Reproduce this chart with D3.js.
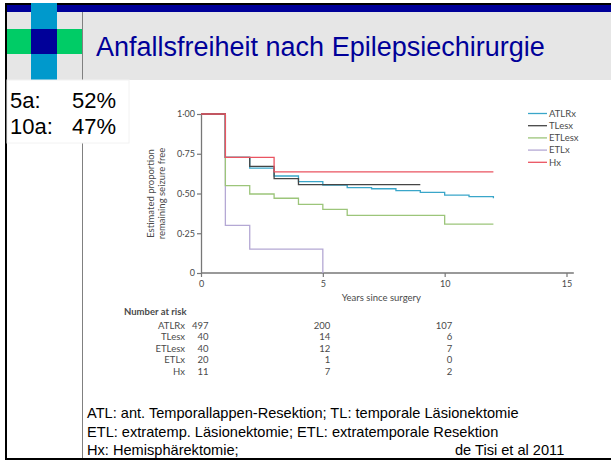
<!DOCTYPE html>
<html>
<head>
<meta charset="utf-8">
<script src="https://cdn.jsdelivr.net/npm/d3@7"></script>
<style>
  body { margin: 0; background: #fff; }
  svg { display: block; }
  .fig text { font-family: Lato, "Open Sans", sans-serif; fill: #4a4a4a; }
</style>
</head>
<body>
<div id="slide"></div>
<script>
// Survival curves (years since surgery, estimated proportion seizure free)
var seriesNames = ["ATLRx", "TLesx", "ETLesx", "ETLx", "Hx"];
var seriesColors = ["#3aa6c9", "#454545", "#9cc57a", "#b4a8d4", "#ea5461"];

var atlrx  = [[0,1],[1,0.727],[2,0.66],[3,0.61],[4,0.575],[5,0.553],[6,0.537],[7,0.53],[8,0.518],[9,0.507],[10,0.49],[11,0.48],[12,0.47]];
var tlesx  = [[0,1],[1,0.727],[2,0.67],[3,0.593],[4,0.556],[9,0.556]];
var etlesx = [[0,1],[1,0.55],[2,0.497],[3,0.47],[4,0.432],[5,0.40],[6,0.363],[10,0.308],[12,0.308]];
var etlx   = [[0,1],[1,0.30],[2,0.15],[5,0]];
var hx     = [[0,1],[1,0.727],[3,0.636],[12,0.636]];

var yTicks = [0, 0.25, 0.5, 0.75, 1];
var xTicks = [0, 5, 10, 15];

// Number at risk table
var riskYears = [0, 5, 10];
var riskATLRx  = [497, 200, 107];
var riskTLesx  = [40, 14, 6];
var riskETLesx = [40, 12, 7];
var riskETLx   = [20, 1, 0];
var riskHx     = [11, 7, 2];

var footnotes = [
  "ATL: ant. Temporallappen-Resektion; TL: temporale Läsionektomie",
  "ETL: extratemp. Läsionektomie; ETL: extratemporale Resektion",
  "Hx: Hemisphärektomie;"
];

var svgWidth = 611;
var svgHeight = 461;

var svg = d3.select("#slide")
  .append("svg")
  .attr("width", svgWidth)
  .attr("height", svgHeight);

svg.append("rect").attr("width", svgWidth).attr("height", svgHeight).attr("fill", "#fff");

// ---- slide frame ----
svg.append("rect").attr("x", 7).attr("y", 12).attr("width", 604).attr("height", 68).attr("fill", "#e6e6e6");
svg.append("rect").attr("x", 5).attr("y", 3).attr("width", 606).attr("height", 2).attr("fill", "#000");
svg.append("rect").attr("x", 5).attr("y", 5).attr("width", 606).attr("height", 7).attr("fill", "#000099");
svg.append("rect").attr("x", 5).attr("y", 3).attr("width", 2).attr("height", 457).attr("fill", "#000");
svg.append("rect").attr("x", 5).attr("y", 458).attr("width", 606).attr("height", 2).attr("fill", "#000");
svg.append("line").attr("x1", 82.5).attr("x2", 82.5).attr("y1", 12).attr("y2", 458)
  .attr("stroke", "#808080").attr("stroke-width", 1);
svg.append("rect").attr("x", 31).attr("y", 3).attr("width", 26).attr("height", 77).attr("fill", "#0099cc");
svg.append("rect").attr("x", 7).attr("y", 29).attr("width", 75).attr("height", 25).attr("fill", "#00cc66");
svg.append("rect").attr("x", 31).attr("y", 29).attr("width", 26).attr("height", 25).attr("fill", "#000099");

svg.append("text")
  .attr("x", 96).attr("y", 56)
  .attr("font-family", "Liberation Sans, Arial, sans-serif")
  .attr("font-size", 27)
  .attr("fill", "#000099")
  .text("Anfallsfreiheit nach Epilepsiechirurgie");

// white box with the rates
svg.append("rect").attr("x", 7).attr("y", 80).attr("width", 122).attr("height", 63)
  .attr("fill", "#fff").attr("stroke", "#f2f2f2");
var rates = [["5a:", "52%"], ["10a:", "47%"]];
rates.forEach(function(r, i) {
  svg.append("text").attr("x", 10).attr("y", 108 + i * 26)
    .attr("font-family", "Liberation Sans, Arial, sans-serif").attr("font-size", 22).text(r[0]);
  svg.append("text").attr("x", 72).attr("y", 108 + i * 26)
    .attr("font-family", "Liberation Sans, Arial, sans-serif").attr("font-size", 22).text(r[1]);
});

// ---- figure ----
var fig = svg.append("g").attr("class", "fig");

var xScale = d3.scaleLinear().domain([0, 15]).range([201, 566.5]);
var yScale = d3.scaleLinear().domain([0, 1]).range([273, 114]);

var fmt = function(d) { return d === 0 ? "0" : d3.format(".2f")(d).replace(".", "·"); };

var leftAxis = d3.axisLeft(yScale).tickValues(yTicks).tickFormat(fmt).tickSize(4).tickSizeOuter(0);
var bottomAxis = d3.axisBottom(xScale).tickValues(xTicks).tickSize(4).tickSizeOuter(0);

var yAxis = fig.append("g").attr("transform", "translate(201,0)").call(leftAxis);
var xAxis = fig.append("g").attr("transform", "translate(0,273)").call(bottomAxis);
xAxis.select(".domain").remove();
fig.append("line")
  .attr("x1", xScale(0)).attr("x2", xScale(15.3))
  .attr("y1", yScale(0)).attr("y2", yScale(0))
  .attr("stroke", "#777").attr("stroke-width", 1.3);

[yAxis, xAxis].forEach(function(a) {
  a.selectAll(".domain").attr("stroke", "#777").attr("stroke-width", 1.3);
  a.selectAll(".tick line").attr("stroke", "#777").attr("stroke-width", 1.2);
  a.selectAll(".tick text").attr("font-size", 9).attr("fill", "#555")
    .attr("font-family", "Lato, sans-serif");
});
yAxis.selectAll(".tick text").attr("x", -6);
xAxis.selectAll(".tick text").attr("y", 8);

fig.append("text")
  .attr("x", xScale(7.4)).attr("y", 301)
  .attr("text-anchor", "middle").attr("font-size", 9.5)
  .text("Years since surgery");

var yLabel = fig.append("text")
  .attr("transform", "translate(154," + yScale(0.5) + ") rotate(-90)")
  .attr("text-anchor", "middle").attr("font-size", 9.5);
yLabel.append("tspan").attr("x", 0).attr("dy", 0).text("Estimated proportion");
yLabel.append("tspan").attr("x", 0).attr("dy", 11).text("remaining seizure free");

// curves, drawn so that Hx ends up on top
var curveData = [atlrx, tlesx, etlesx, etlx, hx];
var drawOrder = [3, 2, 0, 1, 4];
var line = d3.line()
  .x(function(d) { return xScale(d[0]); })
  .y(function(d) { return yScale(d[1]); })
  .curve(d3.curveStepAfter);

fig.selectAll("path.km")
  .data(drawOrder)
  .enter()
  .append("path")
  .attr("class", "km")
  .attr("d", function(i) { return line(curveData[i]); })
  .attr("fill", "none")
  .attr("stroke", function(i) { return seriesColors[i]; })
  .attr("stroke-width", 1.3);

// legend
var legend = fig.append("g").attr("transform", "translate(528,113.5)");
seriesNames.forEach(function(name, i) {
  legend.append("line").attr("x1", 0).attr("x2", 19).attr("y1", i * 12.2).attr("y2", i * 12.2)
    .attr("stroke", seriesColors[i]).attr("stroke-width", 1.3);
  legend.append("text").attr("x", 21).attr("y", i * 12.2 + 3.3).attr("font-size", 9.5).text(name);
});

// number at risk
fig.append("text").attr("x", 124).attr("y", 315)
  .attr("font-size", 9.5).attr("font-weight", "bold").attr("fill", "#333")
  .text("Number at risk");
var riskRows = [riskATLRx, riskTLesx, riskETLesx, riskETLx, riskHx];
riskRows.forEach(function(row, i) {
  var yy = 328.5 + i * 11.6;
  fig.append("text").attr("x", 185).attr("y", yy).attr("text-anchor", "end")
    .attr("font-size", 9.5).text(seriesNames[i]);
  row.forEach(function(v, j) {
    fig.append("text").attr("x", xScale(riskYears[j]) + 7.5).attr("y", yy)
      .attr("text-anchor", "end").attr("font-size", 9.5).text(v);
  });
});

// ---- footnotes ----
footnotes.forEach(function(t, i) {
  svg.append("text").attr("x", 87).attr("y", 418 + i * 18.5)
    .attr("font-family", "Liberation Sans, Arial, sans-serif").attr("font-size", 14.6)
    .attr("fill", "#000").text(t);
});
svg.append("text").attr("x", 455).attr("y", 418 + 2 * 18.5)
  .attr("font-family", "Liberation Sans, Arial, sans-serif").attr("font-size", 14.6)
  .attr("fill", "#000").text("de Tisi et al 2011");
</script>
</body>
</html>
